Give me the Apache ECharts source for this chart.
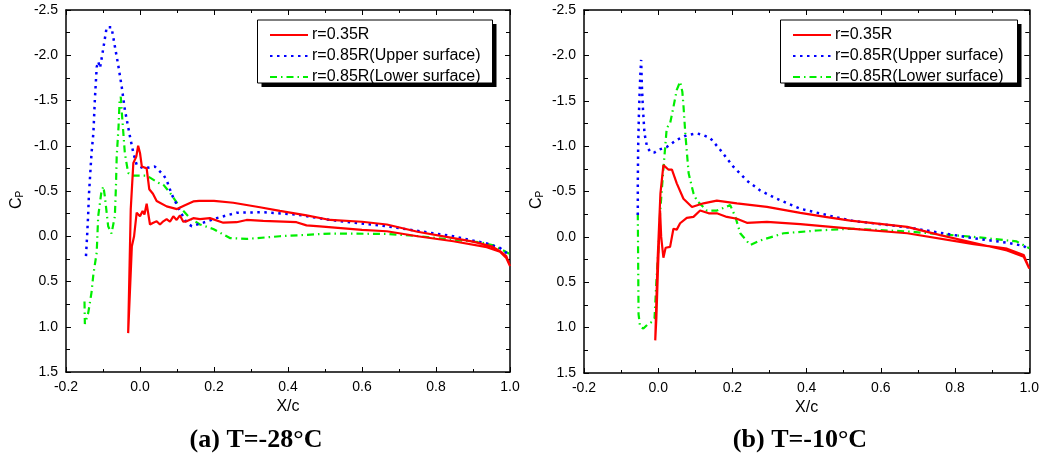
<!DOCTYPE html>
<html>
<head>
<meta charset="utf-8">
<script src="https://cdn.jsdelivr.net/npm/echarts@6/dist/echarts.min.js"></script>
<style>html,body{margin:0;padding:0;background:#fff}#c{width:1042px;height:465px}</style>
</head>
<body>
<div id="c"></div>
<script>
// ---- Data ----
const seriesNames = ['r=0.35R', 'r=0.85R(Upper surface)', 'r=0.85R(Lower surface)'];
const panelTitles = ['(a) T=-28°C', '(b) T=-10°C'];
const xTickMin = -0.2, xTickMax = 1.0, xTickStep = 0.2;
const yTickMin = -2.5, yTickMax = 1.5, yTickStep = 0.5;

// Panel (a) T=-28°C
const a_red_x  = [1.0,0.99,0.973,0.95,0.9,0.847,0.75,0.667,0.6,0.514,0.45,0.378,0.324,0.252,0.2,0.16,0.144,0.12,0.1,0.072,0.045,0.035,0.025,0.018,0.005,0.0,-0.005,-0.01,-0.018,-0.025,-0.032,-0.022,-0.016,-0.009,0.0,0.007,0.012,0.018,0.027,0.036,0.045,0.054,0.063,0.072,0.081,0.09,0.099,0.108,0.117,0.126,0.144,0.162,0.189,0.225,0.261,0.288,0.333,0.423,0.45,0.486,0.6,0.667,0.75,0.847,0.937,0.973,0.99,1.0];
const a_red_cp = [0.33,0.22,0.165,0.11,0.06,0.02,-0.05,-0.13,-0.16,-0.18,-0.23,-0.28,-0.32,-0.37,-0.39,-0.39,-0.385,-0.34,-0.30,-0.33,-0.39,-0.47,-0.52,-0.75,-0.77,-0.92,-1.0,-0.88,-0.81,-0.3,1.07,0.11,0.0,-0.26,-0.22,-0.28,-0.24,-0.36,-0.13,-0.15,-0.165,-0.13,-0.165,-0.19,-0.16,-0.22,-0.18,-0.23,-0.16,-0.165,-0.2,-0.19,-0.2,-0.15,-0.155,-0.18,-0.17,-0.155,-0.12,-0.11,-0.07,-0.055,0.0,0.055,0.12,0.17,0.24,0.33];
const a_up_x   = [-0.146,-0.143,-0.14,-0.138,-0.131,-0.126,-0.122,-0.117,-0.113,-0.108,-0.099,-0.09,-0.077,-0.068,-0.058,-0.049,-0.041,-0.027,-0.018,-0.009,0.009,0.04,0.063,0.072,0.086,0.108,0.126,0.14,0.171,0.207,0.261,0.333,0.423,0.514,0.667,0.847,0.937,0.973,0.995];
const a_up_cp  = [0.22,0.0,-0.25,-0.46,-0.92,-1.14,-1.51,-1.87,-1.93,-1.86,-2.08,-2.31,-2.31,-2.1,-1.87,-1.64,-1.40,-1.10,-0.92,-0.79,-0.75,-0.77,-0.68,-0.62,-0.46,-0.28,-0.15,-0.11,-0.15,-0.2,-0.26,-0.265,-0.24,-0.18,-0.11,0.0,0.08,0.13,0.2];
const a_lo_x   = [-0.15,-0.149,-0.14,-0.131,-0.126,-0.117,-0.113,-0.104,-0.099,-0.095,-0.086,-0.077,-0.068,-0.065,-0.063,-0.058,-0.055,-0.052,-0.049,-0.045,-0.041,-0.032,-0.02,0.018,0.05,0.063,0.081,0.108,0.135,0.162,0.198,0.243,0.288,0.378,0.514,0.667,0.757,0.847,0.919,0.955,0.986,1.0];
const a_lo_cp  = [0.72,0.97,0.85,0.62,0.42,0.18,-0.22,-0.50,-0.55,-0.44,-0.11,-0.03,-0.22,-0.55,-0.88,-1.21,-1.51,-1.54,-1.36,-1.14,-0.92,-0.70,-0.67,-0.67,-0.59,-0.57,-0.48,-0.32,-0.2,-0.13,-0.08,0.02,0.03,0.0,-0.03,-0.026,0.0,0.04,0.066,0.10,0.165,0.2];

// Panel (b) T=-10°C
const b_red_x  = [1.0,0.985,0.94,0.85,0.76,0.671,0.518,0.45,0.383,0.293,0.212,0.158,0.122,0.091,0.068,0.05,0.037,0.028,0.014,0.01,0.006,0.001,-0.002,-0.008,-0.005,-0.001,0.005,0.008,0.014,0.02,0.032,0.041,0.05,0.059,0.077,0.095,0.113,0.136,0.158,0.185,0.212,0.239,0.293,0.383,0.518,0.671,0.85,0.94,0.985,1.0];
const b_red_cp = [0.35,0.22,0.15,0.065,-0.02,-0.11,-0.18,-0.22,-0.265,-0.33,-0.37,-0.40,-0.37,-0.33,-0.42,-0.59,-0.74,-0.74,-0.79,-0.77,-0.48,-0.48,0.29,1.14,0.9,0.4,-0.29,0.0,0.23,0.12,0.11,-0.09,-0.08,-0.15,-0.21,-0.22,-0.29,-0.26,-0.26,-0.22,-0.2,-0.155,-0.165,-0.14,-0.09,-0.04,0.08,0.13,0.2,0.35];
const b_up_x   = [-0.055,-0.055,-0.054,-0.052,-0.05,-0.048,-0.046,-0.044,-0.041,-0.037,-0.03,-0.02,-0.01,0.001,0.023,0.05,0.077,0.104,0.122,0.14,0.167,0.203,0.239,0.275,0.32,0.383,0.455,0.518,0.671,0.85,0.94,0.985,1.0];
const b_up_cp  = [-0.24,-0.6,-1.0,-1.35,-1.6,-1.8,-1.95,-1.66,-1.40,-1.14,-0.99,-0.93,-0.93,-0.96,-0.99,-1.07,-1.12,-1.14,-1.12,-1.09,-0.96,-0.77,-0.62,-0.51,-0.42,-0.31,-0.24,-0.18,-0.105,0.015,0.064,0.10,0.147];
const b_lo_x   = [-0.055,-0.054,-0.053,-0.049,-0.04,-0.03,-0.022,-0.015,-0.01,-0.005,0.001,0.005,0.014,0.023,0.032,0.041,0.05,0.059,0.065,0.068,0.073,0.082,0.095,0.104,0.131,0.158,0.194,0.208,0.221,0.248,0.275,0.338,0.428,0.518,0.671,0.76,0.85,0.922,0.966,1.0];
const b_lo_cp  = [-0.26,0.3,0.85,0.99,1.01,0.97,0.95,0.93,0.9,0.5,0.11,-0.26,-0.75,-1.2,-1.25,-1.43,-1.62,-1.71,-1.6,-1.45,-1.14,-0.70,-0.48,-0.40,-0.29,-0.29,-0.35,-0.22,-0.04,0.09,0.04,-0.04,-0.07,-0.09,-0.06,-0.03,0.0,0.03,0.05,0.125];

// ---- Build chart ----
const zip = (xs, ys) => xs.map((x, i) => [x, ys[i]]);
const FONT = '"Liberation Sans", Arial, sans-serif';
const grids = [
  {left: 66, right: 532, top: 10, bottom: 93},
  {left: 584, right: 12, top: 10, bottom: 92}
];
const lineAxis = {show: true, onZero: false, lineStyle: {color: '#000', width: 1.5}};
const fmt1 = v => v.toFixed(1);

const xAxes = [], yAxes = [];
grids.forEach((g, gi) => {
  ['bottom', 'top'].forEach(pos => {
    xAxes.push({
      type: 'value', gridIndex: gi, position: pos,
      min: xTickMin, max: xTickMax, interval: xTickStep,
      axisLine: lineAxis,
      axisTick: {show: true, inside: true, length: 5, lineStyle: {color: '#000', width: 1}},
      minorTick: {show: true, splitNumber: 2, length: 3, lineStyle: {color: '#000', width: 1}},
      splitLine: {show: false},
      axisLabel: {show: pos === 'bottom', formatter: fmt1, color: '#000', fontFamily: FONT, fontSize: 14, margin: 8},
      name: pos === 'bottom' ? 'X/c' : '',
      nameLocation: 'middle', nameGap: 24,
      nameTextStyle: {color: '#000', fontFamily: FONT, fontSize: 16}
    });
  });
  ['left', 'right'].forEach(pos => {
    yAxes.push({
      type: 'value', gridIndex: gi, position: pos, inverse: true,
      min: yTickMin, max: yTickMax, interval: yTickStep,
      axisLine: lineAxis,
      axisTick: {show: true, inside: true, length: 5, lineStyle: {color: '#000', width: 1}},
      minorTick: {show: true, splitNumber: 2, length: 4, lineStyle: {color: '#000', width: 1}},
      splitLine: {show: false},
      axisLabel: {show: pos === 'left', formatter: fmt1, color: '#000', fontFamily: FONT, fontSize: 14, margin: 8}
    });
  });
});

const styles = [
  {color: '#ff0000', width: 2.2, type: 'solid'},
  {color: '#0000ff', width: 2.5, type: [2.5, 4.5]},
  {color: '#00ee00', width: 2.2, type: [7, 4, 1.5, 4]}
];
const panels = [
  [zip(a_red_x, a_red_cp), zip(a_up_x, a_up_cp), zip(a_lo_x, a_lo_cp)],
  [zip(b_red_x, b_red_cp), zip(b_up_x, b_up_cp), zip(b_lo_x, b_lo_cp)]
];
const series = [];
panels.forEach((p, pi) => {
  p.forEach((data, si) => {
    series.push({
      type: 'line', name: seriesNames[si], data: data,
      xAxisIndex: pi * 2, yAxisIndex: pi * 2,
      symbol: 'none', smooth: false, animation: false,
      lineStyle: {color: styles[si].color, width: styles[si].width, type: styles[si].type, cap: 'butt'},
      itemStyle: {color: styles[si].color},
      z: 3 - si
    });
  });
});

const legendBase = {
  orient: 'vertical', top: 20, itemWidth: 38, itemHeight: 14, itemGap: 5,
  padding: [7, 8, 3, 12],
  itemStyle: {opacity: 0},
  textStyle: {color: '#000', fontFamily: FONT, fontSize: 16, lineHeight: 16, padding: [0, 0, 0, -1]},
  data: seriesNames, selectedMode: false, z: 10
};

const legendBox = (x, w) => ([
  {type: 'rect', shape: {x: x + 4, y: 24, width: w, height: 63}, style: {fill: '#000'}, z: 5},
  {type: 'rect', shape: {x: x, y: 20, width: w, height: 63}, style: {fill: '#fff', stroke: '#000', lineWidth: 1}, z: 6}
]);

const cpText = (x) => ({
  type: 'text', x: x, y: 200, rotation: Math.PI / 2,
  style: {
    text: '{c|C}{p|P}', align: 'center', verticalAlign: 'middle',
    rich: {
      c: {fontFamily: FONT, fontSize: 16, fill: '#000', lineHeight: 18, verticalAlign: 'bottom'},
      p: {fontFamily: FONT, fontSize: 10, fill: '#000', lineHeight: 18, verticalAlign: 'bottom', padding: [8, 0, 0, 0]}
    }
  }
});
const titleText = (x, t) => ({
  type: 'text', x: x, y: 440,
  style: {text: t, align: 'center', verticalAlign: 'middle', fontFamily: '"Liberation Serif", "Times New Roman", serif', fontWeight: 'bold', fontSize: 26, fill: '#000'}
});

const chart = echarts.init(document.getElementById('c'), null, {renderer: 'canvas'});
chart.setOption({
  animation: false,
  backgroundColor: '#fff',
  grid: grids,
  xAxis: xAxes,
  yAxis: yAxes,
  legend: [
    Object.assign({}, legendBase, {left: 257}),
    Object.assign({}, legendBase, {left: 780})
  ],
  series: series,
  graphic: [].concat(legendBox(257.5, 235), legendBox(780.5, 237),
    [cpText(16), cpText(536), titleText(256, panelTitles[0]), titleText(800, panelTitles[1])])
});
</script>
</body>
</html>
